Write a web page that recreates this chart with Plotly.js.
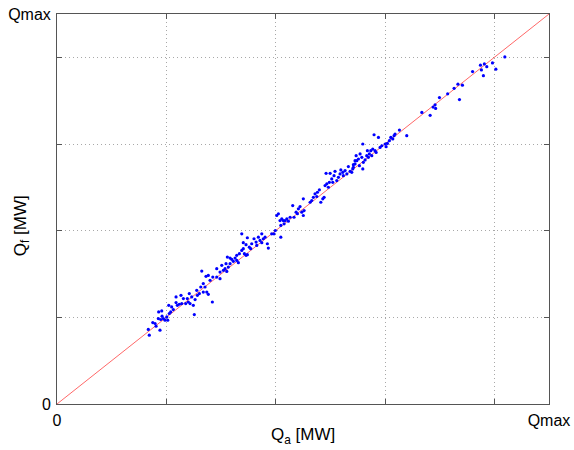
<!DOCTYPE html>
<html>
<head>
<meta charset="utf-8">
<script src="https://cdn.plot.ly/plotly-3.0.1.min.js"></script>
<style>html,body{margin:0;padding:0;background:#fff;}#chart{width:574px;height:450px;}</style>
</head>
<body>
<div id="chart"></div>
<script>
// Axis units: grid step = 1, Qmax = 4.5
const QMAX = 4.5;
const labelVals = [0, 4.5];
const labelText = ['0', 'Qmax'];
const gridVals = [1, 2, 3, 4];
const xTitle = 'Q<sub>a</sub> [MW]';
const yTitle = 'Q<sub>f</sub> [MW]';

const Qa = [
0.844,0.835,0.876,0.897,0.906,0.942,0.927,0.949,0.961,0.930,0.958,0.973,0.988,1.004,1.013,1.027,1.040,1.049,1.022,1.064,
1.089,1.089,1.101,1.119,1.141,1.134,1.156,1.177,1.192,1.201,1.210,1.217,1.232,1.247,1.256,1.263,1.278,1.284,1.302,1.315,
1.338,1.354,1.370,1.384,1.421,1.338,1.363,1.400,1.425,1.324,1.384,
1.461,1.491,1.461,1.491,1.507,1.522,1.537,1.553,1.567,1.546,1.583,1.558,1.583,1.598,1.613,1.629,1.644,1.659,1.644,1.668,
1.690,1.704,1.714,1.729,1.741,1.759,1.772,1.704,1.729,1.690,1.741,1.781,1.802,1.821,1.827,1.842,1.857,1.873,1.873,1.887,
1.903,1.924,1.933,1.964,1.985,1.997,2.010,2.025,2.040,2.056,2.070,2.047,2.047,2.077,
2.086,2.102,2.116,2.132,2.156,2.168,2.187,2.199,2.208,2.223,2.239,2.253,2.253,2.260,2.315,2.330,2.345,2.360,2.376,2.382,
2.400,2.413,2.431,2.443,2.452,2.468,2.482,2.491,2.461,2.498,2.513,2.522,2.534,2.543,2.559,2.574,2.589,2.596,2.614,2.619,
2.635,2.651,2.665,2.681,2.696,2.711,2.705,2.726,
2.711,2.726,2.742,2.736,2.757,2.766,2.772,2.788,2.797,2.802,2.818,2.833,2.839,2.848,2.857,2.870,2.879,2.888,2.900,2.909,
2.919,2.797,2.940,2.955,2.971,3.001,3.010,3.022,3.040,3.053,3.071,3.083,3.092,3.132,3.199,
3.337,3.413,3.440,3.458,3.463,3.498,3.573,3.632,3.667,3.681,3.708,3.801,3.873,3.882,3.900,3.909,3.931,3.983,4.014,4.096
];
const Qf = [
0.794,0.860,0.940,0.929,0.898,0.852,0.986,0.975,1.013,1.062,1.074,0.986,0.967,1.005,0.967,1.044,1.062,1.120,1.139,1.090,
1.170,1.235,1.139,1.151,1.159,1.254,1.216,1.159,1.216,1.177,1.274,1.159,1.235,1.139,1.032,1.205,1.312,1.254,1.274,1.350,
1.292,1.350,1.292,1.266,1.177,1.389,1.473,1.427,1.465,1.534,1.484,
1.465,1.446,1.562,1.522,1.600,1.542,1.562,1.530,1.580,1.619,1.619,1.695,1.684,1.669,1.646,1.684,1.657,1.631,1.715,1.734,
1.772,1.792,1.734,1.715,1.723,1.810,1.792,1.861,1.838,1.964,1.918,1.849,1.907,1.868,1.830,1.925,1.887,1.861,1.964,1.907,
1.925,1.849,1.799,1.964,1.964,2.002,2.175,2.195,2.117,2.137,2.117,1.925,2.060,2.079,
2.117,2.137,2.109,2.155,2.290,2.155,2.213,2.195,2.252,2.278,2.213,2.175,2.367,2.232,2.328,2.348,2.385,2.425,2.394,2.443,
2.471,2.328,2.367,2.385,2.520,2.540,2.501,2.558,2.662,2.662,2.597,2.558,2.635,2.685,2.578,2.616,2.655,2.701,2.673,2.635,
2.693,2.655,2.739,2.685,2.673,2.762,2.712,2.808,
2.731,2.770,2.808,2.865,2.827,2.750,2.885,2.846,2.712,2.788,2.816,2.865,2.923,2.846,2.885,2.923,2.865,2.942,3.107,2.923,
2.903,3.000,3.076,2.961,2.980,3.000,2.969,3.007,3.038,3.076,3.058,3.096,3.115,3.161,3.096,
3.364,3.331,3.426,3.452,3.410,3.536,3.579,3.642,3.690,3.513,3.679,3.836,3.910,3.855,3.788,3.924,3.892,3.936,3.863,4.005
];
const lineX = [0, QMAX];
const lineY = [0, QMAX];

const tickFont = {family: 'Liberation Sans, Arial, sans-serif', size: 16, color: '#000'};
const titleFont = {family: 'Liberation Sans, Arial, sans-serif', size: 17, color: '#000'};
const axisCommon = {
  range: [0, QMAX],
  tickmode: 'array',
  tickvals: labelVals,
  ticktext: labelText,
  ticks: '',
  showline: true,
  linecolor: '#555',
  linewidth: 1,
  mirror: 'ticks',
  showgrid: false,
  zeroline: false,
  tickfont: tickFont,
  ticklabelstandoff: 2,
  minor: {
    tickmode: 'array',
    tickvals: gridVals,
    ticks: 'inside',
    ticklen: 5,
    tickcolor: '#555',
    showgrid: true,
    gridcolor: '#a8a8a8',
    griddash: '1px,3px',
    gridwidth: 1
  },
  fixedrange: true
};

const traces = [
  {x: lineX, y: lineY, type: 'scatter', mode: 'lines',
   line: {color: '#ff0000', width: 0.6}, hoverinfo: 'skip', showlegend: false},
  {x: Qa, y: Qf, type: 'scatter', mode: 'markers',
   marker: {color: '#0000ff', size: 3.2, symbol: 'circle'}, showlegend: false}
];

const layout = {
  width: 574, height: 450,
  margin: {l: 57, r: 25, t: 14, b: 46},
  paper_bgcolor: '#fff', plot_bgcolor: '#fff',
  font: tickFont,
  showlegend: false,
  xaxis: Object.assign({}, axisCommon),
  yaxis: Object.assign({}, axisCommon),
  annotations: [
    {text: xTitle, xref: 'paper', yref: 'paper', x: 0.5, y: -0.082,
     xanchor: 'center', yanchor: 'middle', showarrow: false, font: titleFont},
    {text: yTitle, xref: 'paper', yref: 'paper', x: -0.071, y: 0.456, textangle: -90,
     xanchor: 'center', yanchor: 'middle', showarrow: false, font: titleFont}
  ]
};

Plotly.newPlot('chart', traces, layout, {displayModeBar: false, staticPlot: true});
</script>
</body>
</html>
